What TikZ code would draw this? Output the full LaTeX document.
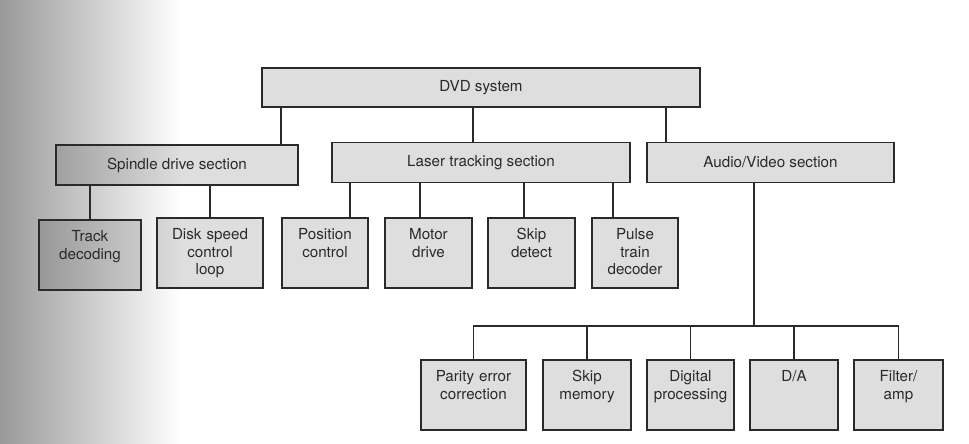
\documentclass[tikz,border=0pt]{standalone}
\usepackage{fontspec}
\setmainfont{TeX Gyre Heros}
\usetikzlibrary{calc}
\definecolor{ink}{HTML}{2A2A2A}
\definecolor{paper}{HTML}{FFFFFF}

\tikzset{
  boxline/.style={draw=ink,line width=1pt,fill=black,fill opacity=.13,text opacity=1},
  topbox/.style={boxline,minimum height=.975cm,inner sep=0pt},
  secbox/.style={boxline,minimum height=.99cm,inner sep=0pt},
  unitbox/.style={boxline,inner xsep=0pt,inner ysep=0pt,align=center,
    text width=#1,minimum width=#1,text height=.55cm,text depth=1.2cm},
  wire/.style={ink,line width=1.1pt}
}

\begin{document}
\begin{tikzpicture}[x=.025cm,y=-.025cm,text=ink,
  font=\fontsize{10.8}{12.4}\selectfont]
  \useasboundingbox (0,0) rectangle (969,444);
  \shade[left color=black!40,right color=paper]
    (0,0) rectangle (180,444);

  \node[topbox,minimum width=10.95cm] (dvd) at (481,87.5) {DVD system};

  \node[secbox,minimum width=6.05cm] (spindle) at (177,165) {Spindle drive section};
  \node[secbox,minimum width=7.45cm] (laser) at (481,162.5) {Laser tracking section};
  \node[secbox,minimum width=6.175cm] (av) at (770.5,162.5) {Audio/Video section};

  \node[unitbox=2.55cm] (track) at (90,255) {Track\\decoding};
  \node[unitbox=2.65cm] (disk) at (210,253) {Disk speed\\control\\loop};
  \node[unitbox=2.15cm] (pos) at (325,253) {Position\\control};
  \node[unitbox=2.175cm] (motor) at (428.5,253) {Motor\\drive};
  \node[unitbox=2.175cm] (skipd) at (531.5,253) {Skip\\detect};
  \node[unitbox=2.15cm] (pulse) at (635,253) {Pulse\\train\\decoder};

  \node[unitbox=2.625cm] (parity) at (473.5,395) {Parity error\\correction};
  \node[unitbox=2.2cm] (skipm) at (587,395) {Skip\\memory};
  \node[unitbox=2.175cm] (digital) at (690.5,395) {Digital\\processing};
  \node[unitbox=2.2cm] (da) at (794,395) {D/A};
  \node[unitbox=2.225cm] (filter) at (898.5,395) {Filter/\\amp};

  % top level
  \draw[wire] ([xshift=-5cm]dvd.south) -- ([xshift=-5cm]dvd.south |- spindle.north);
  \draw[wire] ([xshift=-.2cm]dvd.south) -- ([xshift=-.2cm]dvd.south |- laser.north);
  \draw[wire] ([xshift=4.625cm]dvd.south) -- ([xshift=4.625cm]dvd.south |- av.north);

  % spindle drive
  \draw[wire] (track.north) -- (track.north |- spindle.south);
  \draw[wire] (disk.north) -- (disk.north |- spindle.south);

  % laser tracking
  \draw[wire] ([xshift=.625cm]pos.north) -- ([xshift=.625cm]pos.north |- laser.south);
  \draw[wire] ([xshift=-.2125cm]motor.north) -- ([xshift=-.2125cm]motor.north |- laser.south);
  \draw[wire] ([xshift=-.1875cm]skipd.north) -- ([xshift=-.1875cm]skipd.north |- laser.south);
  \draw[wire] ([xshift=-.55cm]pulse.north) -- ([xshift=-.55cm]pulse.north |- laser.south);

  % audio/video
  \coordinate (bus) at ($(av.south)+(-16.5,143)$);
  \draw[wire] ([xshift=-.4125cm]av.south) -- (bus);
  \draw[wire] (parity.north) -- (parity.north |- bus) -- (filter.north |- bus) -- (filter.north);
  \foreach \n in {skipm,digital,da}
    \draw[wire] (\n.north) -- (\n.north |- bus);
\end{tikzpicture}
\end{document}
